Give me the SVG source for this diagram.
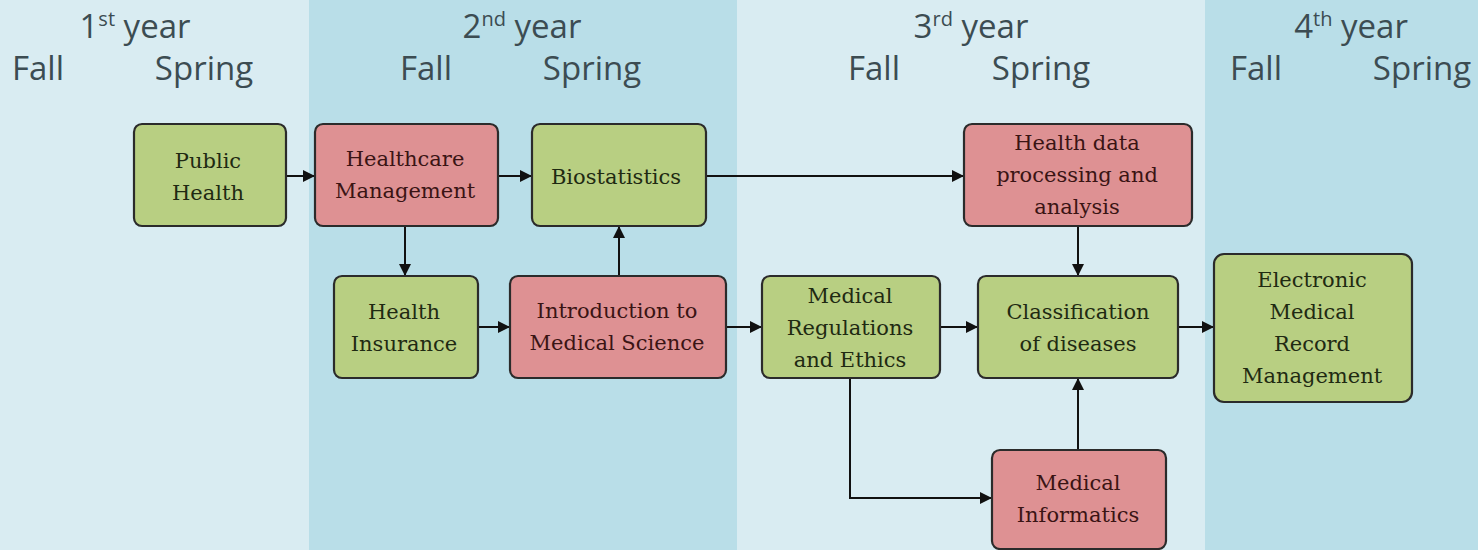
<svg xmlns="http://www.w3.org/2000/svg" width="1478" height="550" viewBox="0 0 1478 550">
<style>
.hd{font-family:"Open Sans","Liberation Sans",sans-serif;font-size:33px;fill:#3c4c52;text-anchor:middle}
.sup{font-size:20px}
.box{stroke:#2b2b2b;stroke-width:2.2}
.g{fill:#b8cf82}
.r{fill:#de9193}
.t{font-family:"DejaVu Serif","Liberation Serif",serif;font-size:21px;text-anchor:middle;fill:#1f2a12}
.tr{fill:#3a1414}
.c{stroke:#111;stroke-width:2;fill:none;marker-end:url(#ah)}
</style>
<defs>
<marker id="ah" viewBox="0 0 10 10" refX="10" refY="5" markerWidth="6" markerHeight="6" markerUnits="strokeWidth" orient="auto">
<path d="M0,0 L10,5 L0,10 z" fill="#111"/>
</marker>
</defs>
<g id="background">
<rect x="0" y="0" width="309" height="550" fill="#d9ecf2"/>
<rect x="309" y="0" width="428" height="550" fill="#b9dee8"/>
<rect x="737" y="0" width="468" height="550" fill="#d9ecf2"/>
<rect x="1205" y="0" width="273" height="550" fill="#b9dee8"/>
</g>
<g id="headers">
<text class="hd" x="135" y="38">1<tspan class="sup" dy="-12">st</tspan><tspan dy="12"> year</tspan></text>
<text class="hd" x="38" y="80">Fall</text>
<text class="hd" x="204" y="80">Spring</text>
<text class="hd" x="522" y="38">2<tspan class="sup" dy="-12">nd</tspan><tspan dy="12"> year</tspan></text>
<text class="hd" x="426" y="80">Fall</text>
<text class="hd" x="592" y="80">Spring</text>
<text class="hd" x="971" y="38">3<tspan class="sup" dy="-12">rd</tspan><tspan dy="12"> year</tspan></text>
<text class="hd" x="874" y="80">Fall</text>
<text class="hd" x="1041" y="80">Spring</text>
<text class="hd" x="1351" y="38">4<tspan class="sup" dy="-12">th</tspan><tspan dy="12"> year</tspan></text>
<text class="hd" x="1256" y="80">Fall</text>
<text class="hd" x="1422" y="80">Spring</text>
</g>
<g id="connectors">
<path class="c" d="M286,176 H315"/>
<path class="c" d="M498,176 H532"/>
<path class="c" d="M706,176 H964"/>
<path class="c" d="M405,226 V276"/>
<path class="c" d="M478,327 H510"/>
<path class="c" d="M619,276 V226"/>
<path class="c" d="M726,327 H762"/>
<path class="c" d="M940,327 H978"/>
<path class="c" d="M1078,226 V276"/>
<path class="c" d="M1178,327 H1214"/>
<path class="c" d="M850,378 V498 H992"/>
<path class="c" d="M1078,450 V378"/>
</g>
<g id="public-health">
<rect class="box g" x="134" y="124" width="152" height="102" rx="8"/>
<text class="t" x="208" y="168">Public</text>
<text class="t" x="208" y="200">Health</text>
</g>
<g id="healthcare-management">
<rect class="box r" x="315" y="124" width="183" height="102" rx="8"/>
<text class="t tr" x="405" y="166">Healthcare</text>
<text class="t tr" x="405" y="198">Management</text>
</g>
<g id="biostatistics">
<rect class="box g" x="532" y="124" width="174" height="102" rx="8"/>
<text class="t" x="616" y="184">Biostatistics</text>
</g>
<g id="health-data">
<rect class="box r" x="964" y="124" width="228" height="102" rx="8"/>
<text class="t tr" x="1077" y="150">Health data</text>
<text class="t tr" x="1077" y="182">processing and</text>
<text class="t tr" x="1077" y="214">analysis</text>
</g>
<g id="health-insurance">
<rect class="box g" x="334" y="276" width="144" height="102" rx="8"/>
<text class="t" x="404" y="319">Health</text>
<text class="t" x="404" y="351">Insurance</text>
</g>
<g id="intro-medical-science">
<rect class="box r" x="510" y="276" width="216" height="102" rx="8"/>
<text class="t tr" x="617" y="318">Introduction to</text>
<text class="t tr" x="617" y="350">Medical Science</text>
</g>
<g id="medical-regulations">
<rect class="box g" x="762" y="276" width="178" height="102" rx="8"/>
<text class="t" x="850" y="303">Medical</text>
<text class="t" x="850" y="335">Regulations</text>
<text class="t" x="850" y="367">and Ethics</text>
</g>
<g id="classification">
<rect class="box g" x="978" y="276" width="200" height="102" rx="8"/>
<text class="t" x="1078" y="319">Classification</text>
<text class="t" x="1078" y="351">of diseases</text>
</g>
<g id="emr">
<rect class="box g" x="1214" y="254" width="198" height="148" rx="10"/>
<text class="t" x="1312" y="287">Electronic</text>
<text class="t" x="1312" y="319">Medical</text>
<text class="t" x="1312" y="351">Record</text>
<text class="t" x="1312" y="383">Management</text>
</g>
<g id="medical-informatics">
<rect class="box r" x="992" y="450" width="174" height="99" rx="8"/>
<text class="t tr" x="1078" y="490">Medical</text>
<text class="t tr" x="1078" y="522">Informatics</text>
</g>
</svg>
